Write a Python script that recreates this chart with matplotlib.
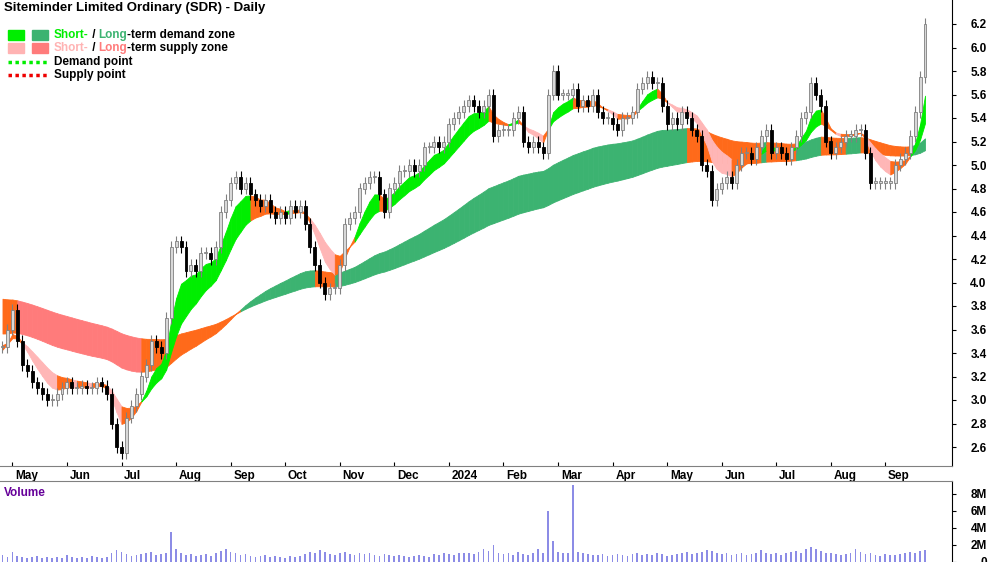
import numpy as np
import pandas as pd
import matplotlib
matplotlib.use("Agg")
import matplotlib.pyplot as plt
import matplotlib.transforms as mtrans
from matplotlib.patches import Rectangle
from matplotlib.lines import Line2D

plt.rcParams['font.family'] = ['Liberation Sans', 'DejaVu Sans']

close = [
    3.45, 3.6, 3.77, 3.5, 3.3, 3.25, 3.15, 3.1, 3.05, 3.0,
    3.0, 3.05, 3.1, 3.15, 3.1, 3.1, 3.12, 3.1, 3.1, 3.15,
    3.12, 3.05, 2.8, 2.6, 2.55, 2.85, 2.95, 3.05, 3.2, 3.3,
    3.5, 3.45, 3.4, 3.7, 4.3, 4.35, 4.3, 4.1, 4.15, 4.1,
    4.25, 4.25, 4.2, 4.3, 4.6, 4.7, 4.85, 4.9, 4.8, 4.85,
    4.75, 4.7, 4.65, 4.7, 4.6, 4.55, 4.6, 4.55, 4.65, 4.6,
    4.65, 4.5, 4.3, 4.15, 4.0, 3.9, 3.95, 3.95, 4.15, 4.5,
    4.55, 4.6, 4.8, 4.85, 4.9, 4.9, 4.75, 4.6, 4.8, 4.85,
    4.95, 4.95, 5.0, 4.95, 5.0, 5.15, 5.15, 5.2, 5.15, 5.2,
    5.35, 5.4, 5.45, 5.5, 5.55, 5.5, 5.45, 5.5, 5.6, 5.25,
    5.3, 5.3, 5.3, 5.4, 5.45, 5.2, 5.15, 5.2, 5.15, 5.1,
    5.6, 5.8, 5.6, 5.6, 5.6, 5.65, 5.5, 5.55, 5.5, 5.6,
    5.45, 5.4, 5.4, 5.35, 5.3, 5.4, 5.4, 5.45, 5.65, 5.7,
    5.75, 5.7, 5.7, 5.5, 5.35, 5.4, 5.35, 5.45, 5.4, 5.3,
    5.25, 5.0, 4.95, 4.7, 4.8, 4.85, 4.9, 4.85, 5.0, 5.1,
    5.1, 5.05, 5.15, 5.25, 5.3, 5.1, 5.15, 5.1, 5.05, 5.15,
    5.25, 5.4, 5.45, 5.7, 5.6, 5.5, 5.2, 5.1, 5.15, 5.2,
    5.25, 5.25, 5.3, 5.3, 5.1, 4.85, 4.85, 4.85, 4.85, 4.85,
    5.0, 5.05, 5.1, 5.25, 5.45, 5.75, 6.2,
]
volume_m = [
    0.8, 0.6, 1.2, 0.7, 0.6, 0.5, 0.6, 0.7, 0.5, 0.6,
    0.5, 0.6, 0.5, 0.8, 0.6, 0.5, 0.6, 0.5, 0.7, 0.6,
    0.5, 0.6, 1.0, 1.4, 1.2, 0.9, 0.7, 0.8, 0.9, 1.0,
    1.2, 0.8, 0.9, 1.1, 3.5, 1.5, 1.0, 0.8, 0.9, 0.7,
    0.8, 0.9, 0.7, 1.0, 1.3, 1.5, 1.2, 1.0, 0.8, 0.9,
    0.7, 0.6, 0.7, 0.8, 0.6, 0.7, 0.6, 0.5, 0.7, 0.6,
    0.7, 0.9, 1.2, 1.0, 1.4, 1.2, 0.9, 0.8, 1.0, 1.2,
    0.9, 0.8, 1.1, 0.9, 1.0, 0.8, 0.7, 0.9, 0.8, 0.7,
    0.8, 0.7, 0.6, 0.7, 0.8, 0.7, 0.6, 0.9, 0.8, 1.0,
    0.9, 0.8, 1.0, 1.1, 1.0, 0.9, 1.2, 1.5, 1.3, 2.0,
    1.0, 0.9, 1.0, 0.8, 1.2, 0.9, 0.8, 1.0, 1.5, 1.0,
    6.0, 2.5, 1.2, 1.0, 1.1, 9.0, 1.2, 1.0, 0.9, 0.8,
    0.8, 0.9, 0.7, 0.8, 0.9, 0.8, 0.7, 0.9, 1.0, 0.8,
    0.9, 0.8, 1.0, 0.9, 0.7, 0.8, 0.9, 1.0, 1.2, 0.9,
    1.0, 1.2, 1.4, 1.3, 1.0, 0.9, 1.0, 0.8, 0.9, 1.0,
    0.8, 0.9, 1.0, 1.4, 1.0, 0.9, 1.0, 0.8, 1.1, 1.2,
    1.3, 1.0, 1.5, 1.8, 1.5, 1.3, 1.1, 1.0, 0.9, 0.8,
    0.9, 1.0, 1.5, 1.2, 0.9, 1.0, 0.8, 0.7, 0.9, 0.8,
    0.8, 0.9, 1.0, 1.2, 1.0, 1.3, 1.4,
]
start_date, end_date = "2023-04-28", "2024-09-24"
short_seed = (3.42, 3.47)
long_seed = (3.57, 3.87)
short_spans = (6, 13)
long_spans = (55, 100)
month_names = ["May", "Jun", "Jul", "Aug", "Sep", "Oct", "Nov", "Dec", "2024",
               "Feb", "Mar", "Apr", "May", "Jun", "Jul", "Aug", "Sep"]
price_ticks = [2.6, 2.8, 3.0, 3.2, 3.4, 3.6, 3.8, 4.0, 4.2, 4.4, 4.6, 4.8,
               5.0, 5.2, 5.4, 5.6, 5.8, 6.0, 6.2]
vol_ticks = [0, 2, 4, 6, 8]

close = np.array(close)
n = len(close)
vol = np.array(volume_m[:n])
x = np.arange(n)
dates = pd.date_range(start_date, end_date, periods=n)
opens = np.concatenate([[close[0]], close[:-1]])

def ema(vals, span, seed):
    a = 2.0 / (span + 1)
    out = np.empty(len(vals)); prev = seed
    for i, v in enumerate(vals):
        prev = prev + a * (v - prev); out[i] = prev
    return out

fig = plt.figure(figsize=(10, 5.62), dpi=100)
axp = fig.add_axes([0, 1 - 466/562, 0.952, 466/562])
axv = fig.add_axes([0, 0, 0.952, 81/562])

ORANGE = "#ff6a1a"
def band(fast, slow, cdem, csup):
    lo = np.minimum(fast, slow); hi = np.maximum(fast, slow)
    slope = np.diff(fast)
    for i in range(n - 1):
        dem = fast[i] >= slow[i]
        inside = lo[i] <= close[i] <= hi[i]
        turning = (dem and slope[i] < 0) or ((not dem) and slope[i] > 0)
        if inside or turning:
            c = ORANGE
        elif dem:
            c = cdem
        else:
            c = csup
        axp.fill_between([i, i + 1], [lo[i], lo[i + 1]], [hi[i], hi[i + 1]],
                         facecolor=c, edgecolor=c, lw=0.6, zorder=1)

lf = ema(close, long_spans[0], long_seed[0]); ls = ema(close, long_spans[1], long_seed[1])
sf = ema(close, short_spans[0], short_seed[0]); ss = ema(close, short_spans[1], short_seed[1])
band(lf, ls, "#3cb371", "#ff7b7b")
band(sf, ss, "#00ee00", "#ffb6b6")

wick = 0.05
for i in range(n):
    o, c = opens[i], close[i]
    up = c >= o
    axp.vlines(i, min(o, c) - wick, max(o, c) + wick, color="#808080" if up else "black", lw=0.8, zorder=3)
    axp.bar(i, max(abs(c - o), 0.01), bottom=min(o, c), width=0.6,
            color="#d8d8d8" if up else "black", edgecolor="#808080" if up else "black", lw=0.6, zorder=4)

xl = (-0.5, (n - 0.5) * 952 / 925 - 0.5)
axp.set_xlim(*xl); axv.set_xlim(*xl)
axp.set_ylim(6.2 - 442/117.5, 6.2 + 24/117.5)

mt = []
per = dates.to_period("M")
for i in range(1, n):
    if per[i] != per[i - 1]:
        mt.append(i)
mt = mt[:len(month_names)]
axp.set_xticks(mt)
axp.set_xticklabels(month_names[:len(mt)], ha="left", fontsize=8.5, fontweight="bold")
axp.tick_params(axis="x", direction="in", length=3, pad=3)
off = mtrans.ScaledTranslation(2/72, 0, fig.dpi_scale_trans)
for lab in axp.get_xticklabels():
    lab.set_transform(lab.get_transform() + off)

axp.yaxis.tick_right()
axp.set_yticks(price_ticks)
axp.set_yticklabels([f"{t:.1f}" for t in price_ticks], fontsize=8.5, fontweight="bold")
axp.tick_params(axis="y", direction="out", length=3, pad=22)
for lab in axp.get_yticklabels():
    lab.set_ha("right")
for s in ["top", "left"]:
    axp.spines[s].set_visible(False)
axp.spines["bottom"].set_color("#808080")

axv.bar(x, vol, width=0.35, color="#8c8ce6", zorder=2)
axv.set_ylim(0, 9.5)
axv.yaxis.tick_right()
axv.set_yticks(vol_ticks)
axv.set_yticklabels(["0"] + [f"{t}M" for t in vol_ticks[1:]], fontsize=8.5, fontweight="bold")
axv.tick_params(axis="y", direction="out", length=3, pad=22)
for lab in axv.get_yticklabels():
    lab.set_ha("right")
axv.set_xticks([])
axv.spines["left"].set_visible(False)
axv.spines["bottom"].set_visible(False)
axv.spines["top"].set_color("#808080")
axv.text(0.004, 0.93, "Volume", transform=axv.transAxes, color="#660099",
         fontsize=8.5, fontweight="bold", va="top")

fig.text(0.004, 1 - 8/562, "Siteminder Limited Ordinary (SDR) - Daily", fontsize=9.5,
         fontweight="bold", va="center")
def fy(py): return 1 - py / 562
def sq(px, py, c):
    fig.patches.append(Rectangle((px/1000, fy(py + 5)), 16/1000, 10/562, color=c, transform=fig.transFigure))
sq(8, 35, "#00ee00"); sq(32, 35, "#3cb371")
sq(8, 48, "#ffb3b3"); sq(32, 48, "#ff7b7b")
r = fig.canvas.get_renderer()
def seg(parts, py):
    xx = 54 / 1000
    for t, c in parts:
        tt = fig.text(xx, fy(py), t, color=c, fontsize=8.5, fontweight="bold", va="center")
        xx += tt.get_window_extent(r).width / 1000
seg([("Short-", "#00ee00"), (" / ", "black"), ("Long", "#3cb371"), ("-term demand zone", "black")], 35)
seg([("Short-", "#ffb3b3"), (" / ", "black"), ("Long", "#ff7b7b"), ("-term supply zone", "black")], 48)
fig.lines.append(Line2D([8/1000, 48/1000], [fy(62), fy(62)], color="#00ee00", lw=2.5, ls=(0, (1, 1)), transform=fig.transFigure))
fig.lines.append(Line2D([8/1000, 48/1000], [fy(75), fy(75)], color="#ee0000", lw=2.5, ls=(0, (1, 1)), transform=fig.transFigure))
fig.text(54/1000, fy(62), "Demand point", fontsize=8.5, fontweight="bold", va="center")
fig.text(54/1000, fy(75), "Supply point", fontsize=8.5, fontweight="bold", va="center")

fig.savefig("out.png", dpi=100)
